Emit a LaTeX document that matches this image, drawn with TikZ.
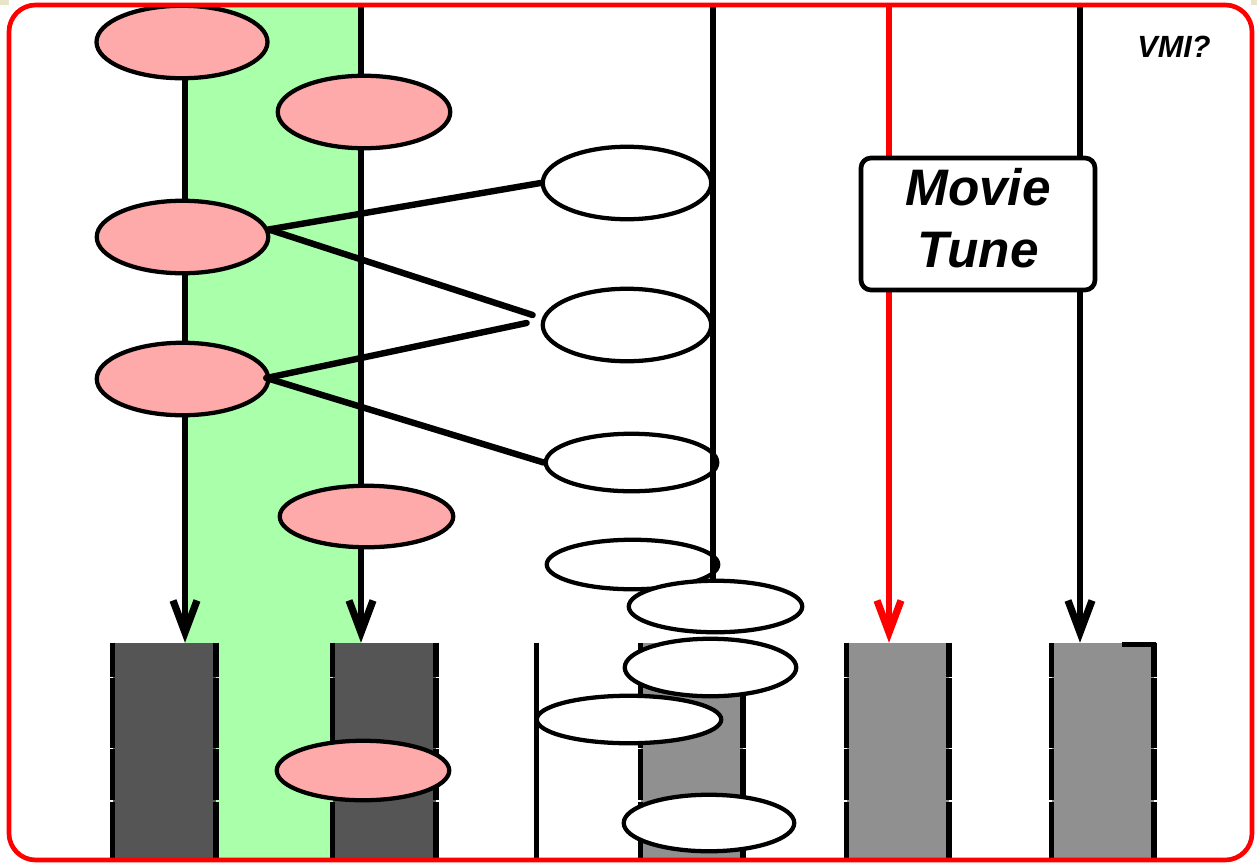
\documentclass[tikz,border=0pt]{standalone}
\usepackage{fontspec}
\setmainfont{Liberation Sans}
\usetikzlibrary{shapes.geometric,arrows.meta,calc}
\definecolor{bandgreen}{HTML}{AAFFAA}
\definecolor{pinkfill}{HTML}{FFAAAA}
\definecolor{darkfill}{HTML}{555555}
\definecolor{grayfill}{HTML}{909090}
\definecolor{paper}{HTML}{E8E4C8}
\definecolor{framered}{HTML}{FF0000}

% side walls of a slot, broken by thin gaps at the row marks
\newcommand\slotwall[2]{%
  \draw[wall] (#1.north #2) -- ++(0,34) ++(0,1.5) -- ++(0,69.5) ++(0,1.5)
    -- ++(0,51) ++(0,1.5) -- (#1.south #2);}

\begin{document}
\begin{tikzpicture}[x=0.75pt,y=-0.75pt,
  sz/.style 2 args={minimum width=#1*0.75pt, minimum height=#2*0.75pt},
  oval/.style={ellipse, draw=black, line width=3.2pt, inner sep=0pt},
  pinkoval/.style={oval, fill=pinkfill},
  whiteoval/.style={oval, fill=white},
  slot/.style={rectangle, draw=none, inner sep=0pt,
    minimum height=216*0.75pt, minimum width=#1*0.75pt},
  wall/.style={line width=4.1pt, line cap=butt, black},
  vline/.style={line width=3.8pt, black},
  tip/.style={-{Straight Barb[length=24pt, width=18pt, line width=5.4pt]}},
  conn/.style={line width=4.8pt, line cap=round, black},
  tunebox/.style={rectangle, rounded corners=7.5pt, draw=black, line width=3.5pt,
    fill=white, inner sep=0pt, sz={234}{132}, align=center,
    font=\fontsize{38.5}{47}\selectfont\bfseries\itshape, text depth=9pt},
]
\useasboundingbox (0,0) rectangle (1257,864);

% paper showing at the outer corners
\fill[paper] (0,0) rectangle (9,5);
\fill[paper] (1251,0) rectangle (1257,5);

% white sheet
\fill[white, rounded corners=20pt] (9,5) rectangle (1252,860);

% green band
\fill[bandgreen] (185,5) rectangle (361,859);

% slots along the bottom
\node[slot=103, fill=darkfill] (b1) at (164,751) {};
\node[slot=103, fill=darkfill] (b2) at (384,751) {};
\node[slot=103.5] (b3) at (588.75,751) {};
\node[slot=102, fill=grayfill] (b4) at (691.5,751) {};
\node[slot=102, fill=grayfill] (b5) at (897.5,751) {};
\node[slot=102, fill=grayfill] (b6) at (1102.5,751) {};

\slotwall{b1}{west}\slotwall{b1}{east}
\slotwall{b2}{west}\slotwall{b2}{east}
\draw[wall] (b3.north west) -- (b3.south west);
\slotwall{b4}{west}\slotwall{b4}{east}
\slotwall{b5}{west}\slotwall{b5}{east}
\slotwall{b6}{west}\slotwall{b6}{east}
\draw[wall, line width=3.4pt] ($(b6.north east)+(-31.5,2)$) -- ($(b6.north east)+(2.7,2)$);

% vertical lines into the slots
\coordinate (s1) at (185,42);
\coordinate (s2) at (361,5);
\coordinate (s5) at (889,5);
\coordinate (s6) at (1080,5);
\draw[vline, tip] (s1) -- (s1 |- b1.north);
\draw[vline, tip] (s2) -- (s2 |- b2.north);
\draw[vline, tip, framered] (s5) -- (s5 |- b5.north);
\draw[vline, tip] (s6) -- (s6 |- b6.north);

% pink ovals
\node[pinkoval, sz={171}{72.5}] (p1) at (182,42) {};
\node[pinkoval, sz={172.5}{72.5}] (p2) at (364,112) {};
\node[pinkoval, sz={171.5}{72.5}] (p3) at (182.5,237) {};
\node[pinkoval, sz={171.5}{72.5}] (p4) at (182.5,379) {};
\node[pinkoval, sz={173.5}{61.5}] (p5) at (366.5,516.5) {};
\node[pinkoval, sz={172.5}{59.5}] (p6) at (363,770.5) {};

% white ovals, upper column
\node[whiteoval, sz={168.5}{72.5}] (a) at (627,183) {};
\node[whiteoval, sz={168.5}{72.5}] (b) at (627,325) {};
\node[whiteoval, sz={171.5}{57.5}] (c) at (631.5,462.5) {};
\node[whiteoval, sz={171.5}{49.5}] (d) at (632.5,564.5) {};

% line down the white column
\coordinate (s4) at (713,5);
\coordinate (s4end) at (713,581);
\draw[vline] (s4) -- (s4end);

% white ovals, lower pile
\node[whiteoval, sz={173.5}{51.5}] (e) at (715.5,606.5) {};
\node[whiteoval, sz={171.5}{57.5}] (f) at (710.5,667.5) {};
\node[whiteoval, sz={184.5}{47.5}] (g) at (629,719.5) {};
\node[whiteoval, sz={170.5}{56.5}] (h) at (709,823) {};

% links from the pink ovals to the white ones
\coordinate (bx1) at ($(b.west)+(-8,-10)$);
\coordinate (bx2) at ($(b.west)+(-14,-2)$);
\coordinate (p4s) at ($(p4.east)+(-4,-1)$);
\draw[conn] (p3.5) -- (a.west);
\draw[conn] (p3.5) -- (bx1);
\draw[conn] (p4s) -- (bx2);
\draw[conn] (p4s) -- (c.west);

% labels
\node[tunebox] (mt) at (978,224) {Movie\\Tune};
\node[font=\fontsize{23}{27}\selectfont\bfseries\itshape, anchor=base, inner sep=0pt]
  (vmi) at (1174,57) {VMI?};

% frame
\draw[framered, line width=3.5pt, rounded corners=20pt] (9,5) rectangle (1252,860);
\end{tikzpicture}
\end{document}
